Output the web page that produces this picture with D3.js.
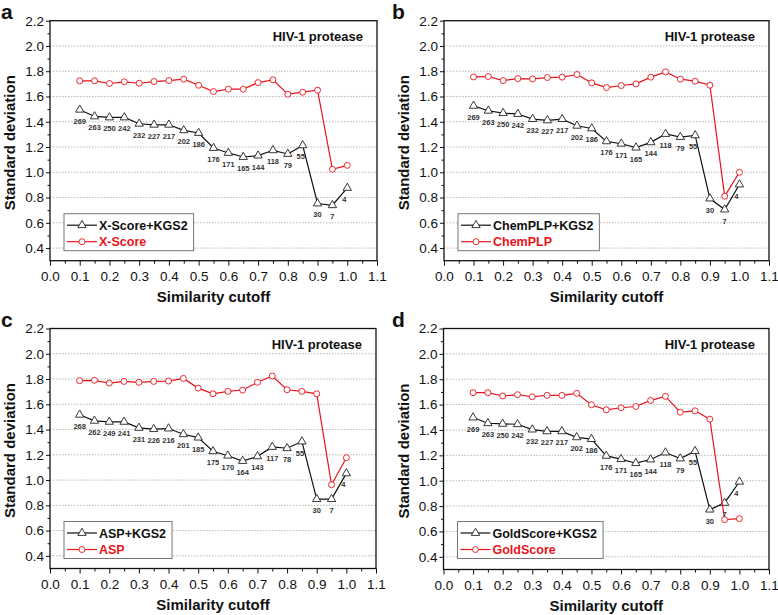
<!DOCTYPE html>
<html><head><meta charset="utf-8">
<script src="https://cdn.jsdelivr.net/npm/d3@7"></script>
<style>
body{margin:0;background:#fff}
svg{display:block;font-family:"Liberation Sans",Arial,Helvetica,sans-serif}
</style>
</head><body>
<svg id="chart" width="778" height="615"></svg>
<script>
// ---------- data ----------
const cutoffs = [0.10,0.15,0.20,0.25,0.30,0.35,0.40,0.45,0.50,0.55,0.60,0.65,0.70,0.75,0.80,0.85,0.90,0.95,1.00];
const xTickValues = [0.0,0.1,0.2,0.3,0.4,0.5,0.6,0.7,0.8,0.9,1.0,1.1];
const yTickValues = [0.4,0.6,0.8,1.0,1.2,1.4,1.6,1.8,2.0,2.2];
const panelLetters = ["a","b","c","d"];
const targetName = "HIV-1 protease";
const xLabel = "Similarity cutoff";
const yLabel = "Standard deviation";

const methodNames = ["X-Score","ChemPLP","ASP","GoldScore"];
const comboNames  = ["X-Score+KGS2","ChemPLP+KGS2","ASP+KGS2","GoldScore+KGS2"];

const xScoreKGS2 = [1.495,1.442,1.434,1.434,1.384,1.376,1.376,1.332,1.311,1.192,1.153,1.121,1.132,1.174,1.145,1.213,0.753,0.739,0.876];
const xScoreOnly = [1.724,1.724,1.703,1.716,1.705,1.718,1.726,1.737,1.689,1.639,1.658,1.658,1.710,1.732,1.618,1.634,1.650,1.024,1.055];

const chemPLPKGS2 = [1.526,1.487,1.468,1.461,1.421,1.411,1.421,1.368,1.347,1.245,1.226,1.195,1.237,1.303,1.279,1.292,0.792,0.705,0.903];
const chemPLPOnly = [1.755,1.758,1.726,1.742,1.739,1.750,1.753,1.774,1.708,1.671,1.687,1.700,1.753,1.795,1.737,1.721,1.689,0.811,1.000];

const aspKGS2 = [1.517,1.469,1.461,1.461,1.413,1.403,1.408,1.363,1.336,1.228,1.193,1.151,1.188,1.262,1.252,1.305,0.849,0.849,1.053];
const aspOnly = [1.787,1.790,1.768,1.781,1.774,1.781,1.784,1.805,1.728,1.683,1.702,1.713,1.774,1.824,1.715,1.702,1.683,0.963,1.177];

const goldScoreKGS2 = [1.498,1.453,1.448,1.445,1.403,1.389,1.389,1.342,1.328,1.196,1.170,1.138,1.167,1.222,1.175,1.233,0.772,0.825,0.992];
const goldScoreOnly = [1.694,1.694,1.668,1.678,1.662,1.673,1.673,1.689,1.599,1.559,1.575,1.585,1.633,1.665,1.540,1.551,1.485,0.693,0.701];

const counts     = [269,263,250,242,232,227,217,202,186,176,171,165,144,118,79,55,30,7,4];
const countsASP  = [268,262,249,241,231,226,216,201,185,175,170,164,143,117,78,55,30,7,4];

const comboSeries  = [xScoreKGS2, chemPLPKGS2, aspKGS2, goldScoreKGS2];
const methodSeries = [xScoreOnly, chemPLPOnly, aspOnly, goldScoreOnly];
const countSeries  = [counts, counts, countsASP, counts];

// ---------- layout ----------
const panelBoxes = [
  {left:50,    top:20.7,  w:327,   h:240, letterX:1,   letterY:19},
  {left:444,   top:20.7,  w:325,   h:240, letterX:392, letterY:19},
  {left:50,    top:328.5, w:326,   h:240, letterX:1,   letterY:327},
  {left:443.5, top:328.5, w:325.5, h:241, letterX:392, letterY:327}
];
const RED = "#e8141c", BLACK = "#111";

const svg = d3.select("#chart");

panelBoxes.forEach((box, i) => {
  // panel letter
  svg.append("text").attr("x", box.letterX).attr("y", box.letterY)
    .attr("font-size", 21).attr("font-weight", "bold").attr("fill", "#111")
    .text(panelLetters[i]);

  const g = svg.append("g").attr("transform", `translate(${box.left},${box.top})`);
  const x = d3.scaleLinear().domain([0, 1.1]).range([0, box.w]);
  const y = d3.scaleLinear().domain([0.3, 2.2]).range([box.h, 0]);

  // gridlines
  g.append("g").selectAll("line").data(yTickValues.filter(v => v < 2.2)).join("line")
    .attr("x1", 0).attr("x2", box.w)
    .attr("y1", d => y(d)).attr("y2", d => y(d))
    .attr("stroke", "#b8b8b8").attr("stroke-width", 1)
    .attr("stroke-dasharray", "1.5,1.5");

  // minor ticks
  const xMinor = xTickValues.slice(0, -1).map(v => v + 0.05);
  const yMinor = yTickValues.slice(0, -1).map(v => v + 0.1);

  const xAxisMinor = d3.axisBottom(x).tickValues(xMinor).tickSize(3).tickSizeOuter(0).tickFormat("");
  const yAxisMinor = d3.axisLeft(y).tickValues(yMinor).tickSize(2.5).tickSizeOuter(0).tickFormat("");
  g.append("g").attr("transform", `translate(0,${box.h})`).call(xAxisMinor);
  g.append("g").call(yAxisMinor);

  const xAxis = d3.axisBottom(x).tickValues(xTickValues).tickSize(5).tickPadding(6)
    .tickSizeOuter(0).tickFormat(d3.format(".1f"));
  const yAxis = d3.axisLeft(y).tickValues(yTickValues).tickSize(4).tickPadding(2)
    .tickSizeOuter(0).tickFormat(d3.format(".1f"));
  g.append("g").attr("transform", `translate(0,${box.h})`).call(xAxis);
  g.append("g").call(yAxis);

  g.selectAll(".tick text").attr("font-size", 13.5).attr("fill", "#111")
    .attr("font-family", "'Liberation Sans', Arial, sans-serif");
  g.selectAll(".domain").remove();
  g.selectAll(".tick line").attr("stroke", "#111").attr("stroke-width", 1);

  // frame
  g.append("rect").attr("x", 0).attr("y", 0).attr("width", box.w).attr("height", box.h)
    .attr("fill", "none").attr("stroke", "#111").attr("stroke-width", 1.3);

  // axis titles
  g.append("text").attr("x", box.w / 2).attr("y", box.h + 41)
    .attr("text-anchor", "middle").attr("font-size", 15).attr("font-weight", "bold")
    .attr("fill", "#111").text(xLabel);
  g.append("text").attr("transform", `translate(-35,${box.h / 2 + 2}) rotate(-90)`)
    .attr("text-anchor", "middle").attr("font-size", 15).attr("font-weight", "bold")
    .attr("fill", "#111").text(yLabel);

  // target label
  g.append("text").attr("x", box.w - 14).attr("y", 20).attr("text-anchor", "end")
    .attr("font-size", 13).attr("font-weight", "bold").attr("fill", "#111").text(targetName);

  const line = d3.line().x((d, k) => x(cutoffs[k])).y(d => y(d));

  // combo (black triangles)
  g.append("path").datum(comboSeries[i]).attr("d", line)
    .attr("fill", "none").attr("stroke", BLACK).attr("stroke-width", 1.2);
  const tri = d3.symbol().type(d3.symbolTriangle).size(30);
  g.append("g").selectAll("path").data(comboSeries[i]).join("path")
    .attr("d", tri)
    .attr("transform", (d, k) => `translate(${x(cutoffs[k])},${y(d)})`)
    .attr("fill", "#fff").attr("stroke", "#222").attr("stroke-width", 0.9);

  // method only (red circles)
  g.append("path").datum(methodSeries[i]).attr("d", line)
    .attr("fill", "none").attr("stroke", RED).attr("stroke-width", 1.2);
  g.append("g").selectAll("circle").data(methodSeries[i]).join("circle")
    .attr("cx", (d, k) => x(cutoffs[k])).attr("cy", d => y(d)).attr("r", 3)
    .attr("fill", "#fff").attr("stroke", RED).attr("stroke-width", 0.9);

  // count labels
  g.append("g").selectAll("text").data(countSeries[i]).join("text")
    .attr("x", (d, k) => x(cutoffs[k]) + (k === cutoffs.length - 1 ? -3 : (k === 15 ? -2 : 0)))
    .attr("y", (d, k) => y(comboSeries[i][k]) + 14)
    .attr("text-anchor", "middle").attr("font-size", 7.5).attr("font-weight", "bold")
    .attr("fill", "#333").text(d => d);

  // legend
  const lg = g.append("g").attr("transform", `translate(14,193)`);
  const lbox = lg.append("rect").attr("x", 0).attr("y", 0).attr("height", 37)
    .attr("fill", "#fff").attr("stroke", "#777").attr("stroke-width", 1);
  const rows = [
    {name: comboNames[i], color: BLACK, text: "#111", marker: "tri"},
    {name: methodNames[i], color: RED, text: RED, marker: "circ"}
  ];
  let maxW = 0;
  rows.forEach((r, k) => {
    const cy = 11.5 + k * 16.5;
    lg.append("line").attr("x1", 3).attr("x2", 33).attr("y1", cy).attr("y2", cy)
      .attr("stroke", r.color).attr("stroke-width", 1.2);
    if (r.marker === "tri") {
      lg.append("path").attr("d", tri).attr("transform", `translate(18,${cy})`)
        .attr("fill", "#fff").attr("stroke", "#222").attr("stroke-width", 0.9);
    } else {
      lg.append("circle").attr("cx", 18).attr("cy", cy).attr("r", 3)
        .attr("fill", "#fff").attr("stroke", RED).attr("stroke-width", 0.9);
    }
    const t = lg.append("text").attr("x", 35).attr("y", cy + 4.5)
      .attr("font-size", 12.5).attr("font-weight", "bold").attr("fill", r.text).text(r.name);
    maxW = Math.max(maxW, t.node().getComputedTextLength());
  });
  lbox.attr("width", 35 + maxW + 6);
});
</script>
</body></html>
